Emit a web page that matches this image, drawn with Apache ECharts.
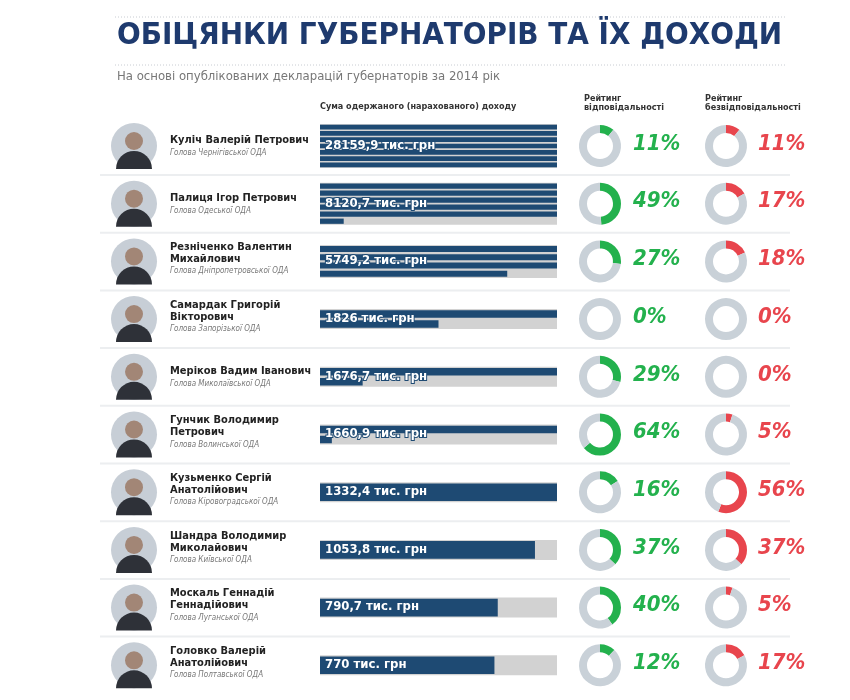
<!DOCTYPE html>
<html>
<head>
<meta charset="utf-8">
<script src="https://cdn.jsdelivr.net/npm/echarts@6/dist/echarts.min.js"></script>
<style>html,body{margin:0;padding:0;background:#fff}#main{width:850px;height:700px}</style>
</head>
<body>
<div id="main"></div>
<script>
var names = ['Куліч Валерій Петрович', 'Палиця Ігор Петрович', 'Резніченко Валентин\nМихайлович', 'Самардак Григорій\nВікторович',
  'Меріков Вадим Іванович', 'Гунчик Володимир\nПетрович', 'Кузьменко Сергій\nАнатолійович', 'Шандра Володимир\nМиколайович',
  'Москаль Геннадій\nГеннадійович', 'Головко Валерій\nАнатолійович'];
var posts = ['Голова Чернігівської ОДА', 'Голова Одеської ОДА', 'Голова Дніпропетровської ОДА', 'Голова Запорізької ОДА',
  'Голова Миколаївської ОДА', 'Голова Волинської ОДА', 'Голова Кіровоградської ОДА', 'Голова Київської ОДА',
  'Голова Луганської ОДА', 'Голова Полтавської ОДА'];
var incomes = ['28159,9', '8120,7', '5749,2', '1826', '1676,7', '1660,9', '1332,4', '1053,8', '790,7', '770'];
// bar length in "full lines" as drawn in the picture
var barFill = [7, 5.1, 3.79, 1.5, 1.18, 1.05, 1, 0.907, 0.75, 0.736];
var responsible = [11, 49, 27, 0, 29, 64, 16, 37, 40, 12];
var irresponsible = [11, 17, 18, 0, 0, 5, 56, 37, 5, 17];

var myChart = echarts.init(document.getElementById('main'));
var rowCenter = [], barH = [44, 42, 33, 20, 20, 20, 20, 20, 20, 20];
for (var i = 0; i < names.length; i++) rowCenter.push(146 + i * 57.7);

var grids = [], xAxes = [], yAxes = [], series = [], graphics = [];
var navy = '#1e4a73', condensed = 'DejaVu Sans Condensed';

for (var i = 0; i < names.length; i++) {
  var cy = rowCenter[i];
  var n = Math.ceil(barFill[i]);
  var vals = [], cats = [];
  for (var k = 0; k < n; k++) {
    cats.push(String(k));
    vals.push(Math.min(1, barFill[i] - k));
  }
  grids.push({ left: 320, width: 237, top: cy - barH[i] / 2, height: barH[i], show: true,
    backgroundColor: '#d2d2d2', borderWidth: 0 });
  xAxes.push({ gridIndex: i, type: 'value', min: 0, max: 1, show: false });
  yAxes.push({ gridIndex: i, type: 'category', data: cats, inverse: true, show: false });
  series.push({ type: 'bar', xAxisIndex: i, yAxisIndex: i, data: vals, silent: true,
    barCategoryGap: n > 1 ? '25%' : '12%', itemStyle: { color: navy } });

  series.push({ type: 'pie', center: [600, cy], radius: [13, 21], startAngle: 90, silent: true,
    label: { show: false }, labelLine: { show: false }, animation: false,
    data: [{ value: responsible[i], itemStyle: { color: '#23b14d' } },
           { value: 100 - responsible[i], itemStyle: { color: '#c9d1d8' } }] });
  series.push({ type: 'pie', center: [726, cy], radius: [13, 21], startAngle: 90, silent: true,
    label: { show: false }, labelLine: { show: false }, animation: false,
    data: [{ value: irresponsible[i], itemStyle: { color: '#e8454d' } },
           { value: 100 - irresponsible[i], itemStyle: { color: '#c9d1d8' } }] });

  graphics.push({ type: 'text', z: 100, left: 633, top: cy - 13, style: { text: responsible[i] + '%', fill: '#23b14d',
    font: 'italic bold 22px "' + condensed + '"' } });
  graphics.push({ type: 'text', z: 100, left: 758, top: cy - 13, style: { text: irresponsible[i] + '%', fill: '#e8454d',
    font: 'italic bold 22px "' + condensed + '"' } });
  graphics.push({ type: 'text', z: 100, left: 324, top: cy - 8, style: { text: incomes[i] + ' тис. грн', fill: '#fff',
    font: 'bold 13px "' + condensed + '"', stroke: navy, lineWidth: 2 } });

  // photo placeholder
  graphics.push({ type: 'circle', shape: { cx: 134, cy: cy, r: 23 }, style: { fill: '#c7ced6' } });
  graphics.push({ type: 'circle', shape: { cx: 134, cy: cy - 5, r: 9 }, style: { fill: '#a28676' } });
  graphics.push({ type: 'sector', shape: { cx: 134, cy: cy + 23, r: 18, r0: 0, startAngle: Math.PI, endAngle: 2 * Math.PI },
    style: { fill: '#2e3138' } });

  var twoLine = names[i].indexOf('\n') >= 0;
  graphics.push({ type: 'text', left: 170, top: cy - (twoLine ? 20 : 12), style: { text: names[i], fill: '#222',
    font: 'bold 11px "' + condensed + '"', lineHeight: 12 } });
  graphics.push({ type: 'text', left: 170, top: cy + (twoLine ? 6 : 3), style: { text: posts[i], fill: '#777',
    font: 'italic 8px "' + condensed + '"' } });
  if (i < names.length - 1) {
    graphics.push({ type: 'line', shape: { x1: 100, y1: cy + 29, x2: 790, y2: cy + 29 },
      style: { stroke: '#eceef0', lineWidth: 2 } });
  }
}

graphics.push({ type: 'line', shape: { x1: 115, y1: 17, x2: 785, y2: 17 }, style: { stroke: '#c8ccd2', lineDash: [1, 2] } });
graphics.push({ type: 'line', shape: { x1: 115, y1: 65, x2: 785, y2: 65 }, style: { stroke: '#c8ccd2', lineDash: [1, 2] } });
graphics.push({ type: 'text', left: 117, top: 20, style: { text: 'ОБІЦЯНКИ ГУБЕРНАТОРІВ ТА ЇХ ДОХОДИ', fill: '#1e3a6e',
  font: 'bold 31px "' + condensed + '"' } });
graphics.push({ type: 'text', left: 117, top: 70, style: { text: 'На основі опублікованих декларацій губернаторів за 2014 рік',
  fill: '#777', font: '13px "' + condensed + '"' } });
graphics.push({ type: 'text', left: 320, top: 102, style: { text: 'Сума одержаного (нарахованого) доходу',
  fill: '#333', font: 'bold 9px "' + condensed + '"' } });
graphics.push({ type: 'text', left: 584, top: 94, style: { text: 'Рейтинг\nвідповідальності',
  fill: '#333', font: 'bold 9px "' + condensed + '"', lineHeight: 9 } });
graphics.push({ type: 'text', left: 705, top: 94, style: { text: 'Рейтинг\nбезвідповідальності',
  fill: '#333', font: 'bold 9px "' + condensed + '"', lineHeight: 9 } });

var option = {
  backgroundColor: '#fff',
  animation: false,
  grid: grids,
  xAxis: xAxes,
  yAxis: yAxes,
  series: series,
  graphic: graphics
};
myChart.setOption(option);
</script>
</body>
</html>
